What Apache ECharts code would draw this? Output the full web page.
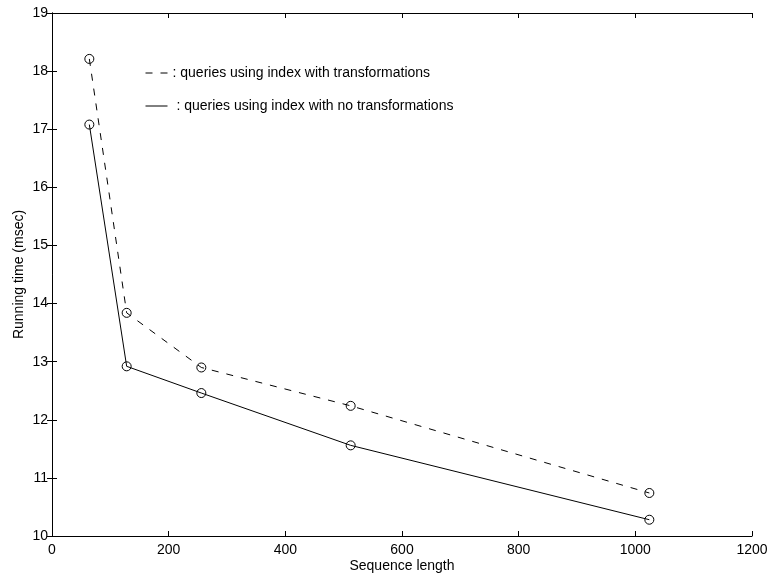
<!DOCTYPE html>
<html>
<head>
<meta charset="utf-8">
<script src="https://cdn.jsdelivr.net/npm/echarts@6/dist/echarts.min.js"></script>
<style>
html,body{margin:0;padding:0;background:#fff;}
#chart{width:773px;height:580px;}
</style>
</head>
<body>
<div id="chart"></div>
<script>
const seqLength = [64, 128, 256, 512, 1024];
const withTransformations = [18.21, 13.84, 12.90, 12.24, 10.74];
const noTransformations = [17.08, 12.92, 12.46, 11.56, 10.28];
const nameWith = 'queries using index with transformations';
const nameNo = 'queries using index with no transformations';
const xTicks = {min: 0, max: 1200, interval: 200};
const yTicks = {min: 10, max: 19, interval: 1};

const font = 'Liberation Sans, Arial, Helvetica, sans-serif';
const fs = 14;
const chart = echarts.init(document.getElementById('chart'), null, {renderer: 'canvas'});

function pairs(xs, ys) { return xs.map((x, i) => [x, ys[i]]); }

const axisLine = {show: true, lineStyle: {color: '#000', width: 1}};
const axisTick = {show: true, inside: true, length: 5, lineStyle: {color: '#000'}};

chart.setOption({
  animation: false,
  backgroundColor: '#fff',
  textStyle: {fontFamily: font, color: '#000'},
  grid: {left: 52, right: 21, top: 13, bottom: 44, containLabel: false},
  legend: {
    orient: 'vertical',
    left: 140,
    top: 61,
    itemGap: 19,
    itemWidth: 22,
    itemHeight: 14,
    itemStyle: {opacity: 0},
    lineStyle: {width: 1},
    formatter: function (name) { return (name === nameNo ? ' : ' : ': ') + name; },
    textStyle: {fontFamily: font, fontSize: fs, color: '#000'},
    data: [nameWith, nameNo]
  },
  xAxis: [
    {type: 'value', position: 'bottom', min: xTicks.min, max: xTicks.max, interval: xTicks.interval,
     name: 'Sequence length', nameLocation: 'middle', nameGap: 23, nameMoveOverlap: false,
     nameTextStyle: {fontFamily: font, fontSize: fs, color: '#000'},
     axisLine: axisLine, axisTick: axisTick, splitLine: {show: false},
     axisLabel: {fontFamily: font, fontSize: fs, color: '#000', margin: 7, formatter: v => String(v)}},
    {type: 'value', position: 'top', min: xTicks.min, max: xTicks.max, interval: xTicks.interval,
     axisLine: axisLine, axisTick: axisTick, splitLine: {show: false}, axisLabel: {show: false}}
  ],
  yAxis: [
    {type: 'value', position: 'left', min: yTicks.min, max: yTicks.max, interval: yTicks.interval,
     name: 'Running time (msec)', nameLocation: 'middle', nameGap: 26, nameMoveOverlap: false,
     nameTextStyle: {fontFamily: font, fontSize: fs, color: '#000'},
     axisLine: axisLine, axisTick: axisTick, splitLine: {show: false},
     axisLabel: {fontFamily: font, fontSize: fs, color: '#000', margin: 4, formatter: v => String(v)}},
    {type: 'value', position: 'right', min: yTicks.min, max: yTicks.max, interval: yTicks.interval,
     axisLine: axisLine, axisTick: axisTick, splitLine: {show: false}, axisLabel: {show: false}}
  ],
  series: [
    {name: nameWith, type: 'line', data: pairs(seqLength, withTransformations),
     symbol: 'circle', symbolSize: 9,
     itemStyle: {color: 'rgba(0,0,0,0)', borderColor: '#000', borderWidth: 1},
     lineStyle: {color: '#000', width: 1, type: [7, 8]}},
    {name: nameNo, type: 'line', data: pairs(seqLength, noTransformations),
     symbol: 'circle', symbolSize: 9,
     itemStyle: {color: 'rgba(0,0,0,0)', borderColor: '#000', borderWidth: 1},
     lineStyle: {color: '#000', width: 1, type: 'solid'}}
  ]
});
</script>
</body>
</html>
